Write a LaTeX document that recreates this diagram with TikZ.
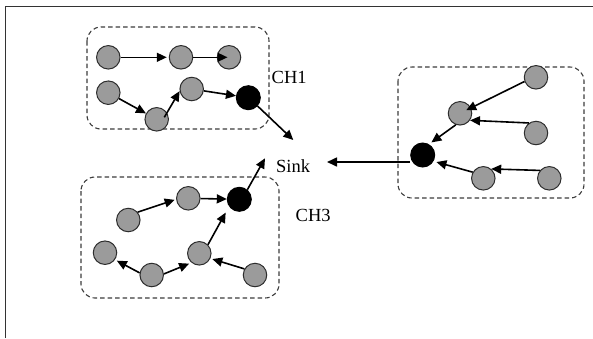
\documentclass[tikz,border=0pt]{standalone}
\usepackage{fontspec}
\setmainfont{Liberation Serif}
\usetikzlibrary{arrows.meta}

\definecolor{nodegray}{RGB}{155,155,155}
\definecolor{rimgray}{RGB}{45,45,45}
\definecolor{dashgray}{RGB}{60,60,60}

\tikzset{
  sensor/.style={circle, minimum size=23.5pt, inner sep=0pt, draw=rimgray, line width=1pt, fill=nodegray},
  head/.style={circle, minimum size=24pt, inner sep=0pt, draw=black, line width=1pt, fill=black},
  cluster/.style={draw=dashgray, line width=1.1pt, dash pattern=on 4.5pt off 3pt, rounded corners=14pt},
  link/.style={line width=1.6pt, -{Triangle[length=10pt,width=9pt]}},
  lbl/.style={inner sep=0pt, font=\fontsize{18.5}{21}\selectfont}
}

\begin{document}
\begin{tikzpicture}[x=1pt, y=-1pt]
  \useasboundingbox (0,0) rectangle (593,338);

  % outer frame (top and left edges)
  \draw[line width=1.8pt, draw=black!80] (5.5,338) -- (5.5,6.5) -- (593,6.5);

  % cluster outlines
  \draw[cluster] (87,27) rectangle (269,129);
  \draw[cluster] (81,177) rectangle (279,298);
  \draw[cluster] (398,67) rectangle (584,198);

  % cluster 1
  \node[sensor] (a1) at (108.3,57.3) {};
  \node[sensor] (a2) at (181,57.3) {};
  \node[sensor] (a3) at (229,57.3) {};
  \node[sensor] (a4) at (108.3,92.7) {};
  \node[sensor] (a5) at (156.7,119.3) {};
  \node[sensor] (a6) at (191.7,89) {};
  \node[head]   (b1) at (248.3,97.7) {};

  % cluster 3
  \node[sensor] (c1) at (128.3,220) {};
  \node[sensor] (c2) at (188.3,198.3) {};
  \node[head]   (b3) at (239.3,199.3) {};
  \node[sensor] (c3) at (105,252.7) {};
  \node[sensor] (c4) at (151.7,275) {};
  \node[sensor] (c5) at (199.3,253.3) {};
  \node[sensor] (c6) at (255,275) {};

  % right cluster
  \node[sensor] (r1) at (536,77.3) {};
  \node[sensor] (r2) at (460,113.3) {};
  \node[sensor] (r3) at (536,133) {};
  \node[head]   (bR) at (422.7,155) {};
  \node[sensor] (r4) at (483.3,178.3) {};
  \node[sensor] (r5) at (549.3,178.3) {};

  % labels
  \node[lbl, anchor=base west] (sink) at (276,172) {Sink};
  \node[lbl, anchor=base west] (ch1) at (271.5,83.3) {CH1};
  \node[lbl, anchor=base west] (ch3) at (295.5,221.7) {CH3};

  % arrival points around the sink
  \coordinate (in1) at (293.3,140);
  \coordinate (in3) at (265,158.3);
  \coordinate (inR) at (327,162);

  % links inside cluster 1
  \draw[link, shorten >=2pt] (a1) -- (a2);
  \draw[link, shorten >=1.5pt] (a2) -- (a3.center);
  \draw[link] (a4) -- (a5);
  \draw[link] ([shift={(7.6pt,2pt)}]a5.center) -- (a6.190);
  \draw[link] (a6) -- (b1);
  \draw[link] (b1.-42) -- (in1);

  % links inside cluster 3
  \draw[link, shorten >=1.5pt] (c1.40) -- (c2.185);
  \draw[link] (c2) -- (b3);
  \draw[link, shorten >=2pt] (c4.170) -- (c3.-35);
  \draw[link, shorten >=2.5pt] (c4.5) -- (c5.230);
  \draw[link, shorten >=7pt] (c5.45) -- (b3.215);
  \draw[link, shorten >=2pt] (c6.150) -- (c5.-25);
  \draw[link] (b3.50) -- (in3);

  % links inside the right cluster
  \draw[link, shorten >=6.9pt] (r1.200) -- (r2.center);
  \draw[link] (r3.125) -- (r2.-35);
  \draw[link, shorten >=3pt] (r2.250) -- (bR.60);
  \draw[link] (r5.140) -- (r4.50);
  \draw[link, shorten >=3pt] (r4.150) -- (bR.-30);
  \draw[link] (bR.west |- inR) -- (inR);
\end{tikzpicture}
\end{document}
